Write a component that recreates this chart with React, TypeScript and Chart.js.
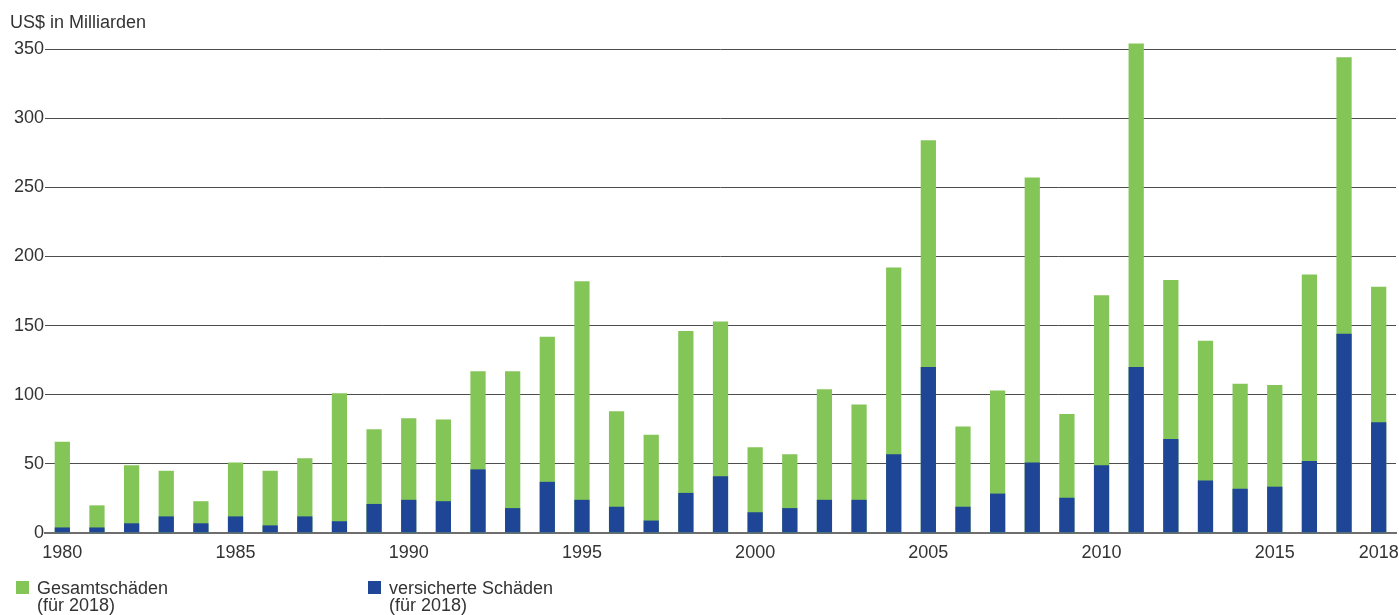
import React, { useEffect, useRef } from 'react';
import { Chart, registerables } from 'chart.js';

Chart.register(...registerables);

const years = [
  '1980', '1981', '1982', '1983', '1984', '1985', '1986', '1987', '1988', '1989',
  '1990', '1991', '1992', '1993', '1994', '1995', '1996', '1997', '1998', '1999',
  '2000', '2001', '2002', '2003', '2004', '2005', '2006', '2007', '2008', '2009',
  '2010', '2011', '2012', '2013', '2014', '2015', '2016', '2017', '2018',
];

const totalLosses = [
  66, 20, 49, 45, 23, 51, 45, 54, 101, 75,
  83, 82, 117, 117, 142, 182, 88, 71, 146, 153,
  62, 57, 104, 93, 192, 284, 77, 103, 257, 86,
  172, 354, 183, 139, 108, 107, 187, 344, 178,
];

const insuredLosses = [
  4, 4, 7, 12, 7, 12, 5.5, 12, 8.5, 21,
  24, 23, 46, 18, 37, 24, 19, 9, 29, 41,
  15, 18, 24, 24, 57, 120, 19, 28.5, 51, 25.5,
  49, 120, 68, 38, 32, 33.5, 52, 144, 80,
];

const labeledYears = ['1980', '1985', '1990', '1995', '2000', '2005', '2010', '2015', '2018'];

const yMin = 0;
const yMax = 350;
const yStep = 50;

const titleText = 'US$ in Milliarden';
const legendTotalLines = ['Gesamtschäden', '(für 2018)'];
const legendInsuredLines = ['versicherte Schäden', '(für 2018)'];

const GREEN = '#84c558';
const BLUE = '#1e4596';
const TEXT = '#333333';
const GRID = '#4d4d4d';
const FONT = '"Liberation Sans", Arial, Helvetica, sans-serif';

const textPlugin = {
  id: 'textPlugin',
  afterDraw(chart: any) {
    const ctx = chart.ctx;
    ctx.save();
    ctx.font = `18px ${FONT}`;
    ctx.textAlign = 'left';
    ctx.textBaseline = 'alphabetic';
    ctx.fillStyle = TEXT;
    ctx.fillText(titleText, 10, 28);

    const items = [
      { lines: legendTotalLines, color: GREEN, x: 16 },
      { lines: legendInsuredLines, color: BLUE, x: 368 },
    ];
    items.forEach((it) => {
      ctx.fillStyle = it.color;
      ctx.fillRect(it.x, 581, 13, 13);
      ctx.fillStyle = TEXT;
      it.lines.forEach((line, i) => {
        ctx.fillText(line, it.x + 21, 594 + i * 17);
      });
    });
    ctx.restore();
  },
};

export default function App() {
  const canvasRef = useRef<HTMLCanvasElement | null>(null);

  useEffect(() => {
    if (!canvasRef.current) return;
    const chart = new Chart(canvasRef.current, {
      type: 'bar',
      data: {
        labels: years,
        datasets: [
          {
            label: legendInsuredLines.join(' '),
            data: insuredLosses,
            backgroundColor: BLUE,
            borderWidth: 0,
            grouped: false,
            clip: false,
            barPercentage: 0.44,
            categoryPercentage: 1,
          } as any,
          {
            label: legendTotalLines.join(' '),
            data: totalLosses,
            backgroundColor: GREEN,
            borderWidth: 0,
            grouped: false,
            clip: false,
            barPercentage: 0.44,
            categoryPercentage: 1,
          } as any,
        ],
      },
      options: {
        responsive: false,
        animation: false,
        devicePixelRatio: 1,
        layout: { padding: { top: 49, bottom: 54, left: 0, right: 3 } },
        plugins: {
          legend: { display: false },
          title: { display: false },
          tooltip: { enabled: false },
        },
        scales: {
          x: {
            offset: true,
            grid: { display: false, drawTicks: false },
            border: { display: true, color: '#6e6e6e', width: 2 },
            ticks: {
              autoSkip: false,
              maxRotation: 0,
              minRotation: 0,
              padding: 9,
              color: TEXT,
              font: { family: FONT, size: 18 },
              callback: function (this: any, value: any) {
                const lab = this.getLabelForValue(value);
                return labeledYears.includes(lab) ? lab : '';
              },
            },
            afterFit: (scale: any) => {
              scale.height = 28;
              scale.paddingLeft = 0;
              scale.paddingRight = 0;
            },
          },
          y: {
            min: yMin,
            max: yMax,
            grid: {
              color: (c: any) => (c.tick && c.tick.value === 0 ? 'rgba(0,0,0,0)' : GRID),
              lineWidth: 1,
              drawTicks: false,
            },
            border: { display: false },
            ticks: {
              stepSize: yStep,
              padding: 1,
              color: TEXT,
              font: { family: FONT, size: 18 },
            },
            afterFit: (scale: any) => {
              scale.width = 45;
              scale.paddingTop = 0;
              scale.paddingBottom = 0;
            },
          },
        },
      },
      plugins: [textPlugin],
    });
    return () => chart.destroy();
  }, []);

  return (
    <div style={{ position: 'absolute', left: 0, top: 0, width: 1399, height: 615, background: '#fff' }}>
      <canvas ref={canvasRef} width={1399} height={615} style={{ display: 'block' }} />
    </div>
  );
}
